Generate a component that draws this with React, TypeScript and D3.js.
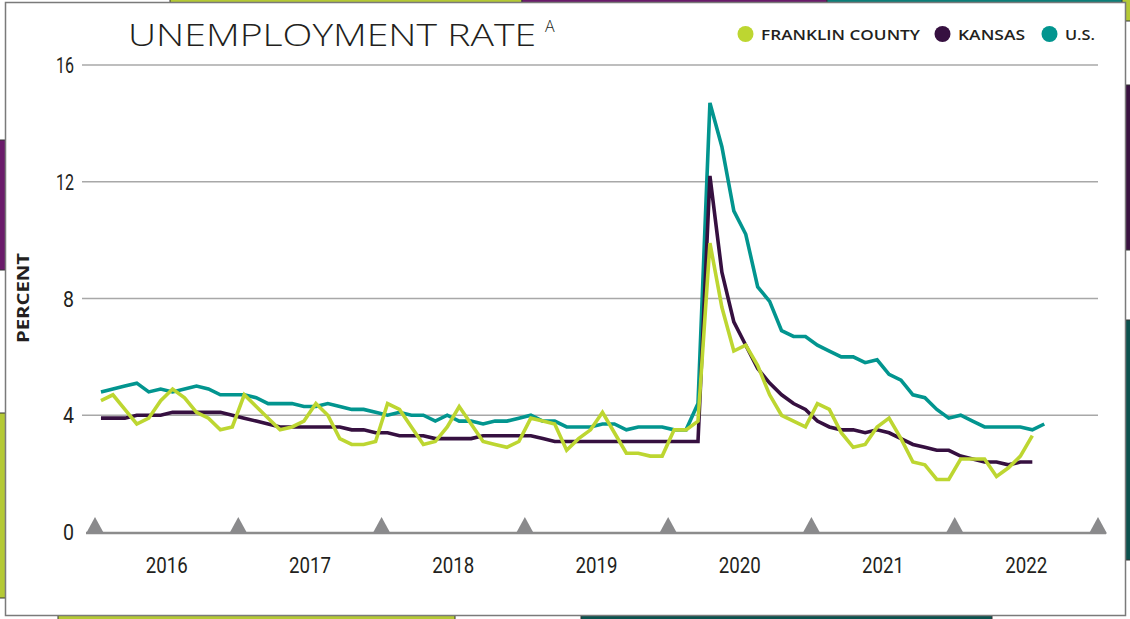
import React from 'react';
import * as d3 from 'd3';

// ---- data (monthly, Jan 2016 onward) ----
const years = ['2016', '2017', '2018', '2019', '2020', '2021', '2022'];
const yTicks = [0, 4, 8, 12, 16];

const franklin = [
  4.5, 4.7, 4.2, 3.7, 3.9, 4.5, 4.9, 4.6, 4.1, 3.9, 3.5, 3.6,
  4.7, 4.3, 3.9, 3.5, 3.6, 3.8, 4.4, 4.0, 3.2, 3.0, 3.0, 3.1,
  4.4, 4.2, 3.6, 3.0, 3.1, 3.6, 4.3, 3.7, 3.1, 3.0, 2.9, 3.1,
  3.9, 3.8, 3.7, 2.8, 3.2, 3.5, 4.1, 3.4, 2.7, 2.7, 2.6, 2.6,
  3.5, 3.5, 3.8, 9.9, 7.7, 6.2, 6.4, 5.7, 4.7, 4.0, 3.8, 3.6,
  4.4, 4.2, 3.4, 2.9, 3.0, 3.6, 3.9, 3.2, 2.4, 2.3, 1.8, 1.8,
  2.5, 2.5, 2.5, 1.9, 2.2, 2.6, 3.3,
];

const kansas = [
  3.9, 3.9, 3.9, 4.0, 4.0, 4.0, 4.1, 4.1, 4.1, 4.1, 4.1, 4.0,
  3.9, 3.8, 3.7, 3.6, 3.6, 3.6, 3.6, 3.6, 3.6, 3.5, 3.5, 3.4,
  3.4, 3.3, 3.3, 3.3, 3.2, 3.2, 3.2, 3.2, 3.3, 3.3, 3.3, 3.3,
  3.3, 3.2, 3.1, 3.1, 3.1, 3.1, 3.1, 3.1, 3.1, 3.1, 3.1, 3.1,
  3.1, 3.1, 3.1, 12.2, 8.9, 7.2, 6.4, 5.6, 5.1, 4.7, 4.4, 4.2,
  3.8, 3.6, 3.5, 3.5, 3.4, 3.5, 3.4, 3.2, 3.0, 2.9, 2.8, 2.8,
  2.6, 2.5, 2.4, 2.4, 2.3, 2.4, 2.4,
];

const us = [
  4.8, 4.9, 5.0, 5.1, 4.8, 4.9, 4.8, 4.9, 5.0, 4.9, 4.7, 4.7,
  4.7, 4.6, 4.4, 4.4, 4.4, 4.3, 4.3, 4.4, 4.3, 4.2, 4.2, 4.1,
  4.0, 4.1, 4.0, 4.0, 3.8, 4.0, 3.8, 3.8, 3.7, 3.8, 3.8, 3.9,
  4.0, 3.8, 3.8, 3.6, 3.6, 3.6, 3.7, 3.7, 3.5, 3.6, 3.6, 3.6,
  3.5, 3.5, 4.4, 14.7, 13.2, 11.0, 10.2, 8.4, 7.9, 6.9, 6.7, 6.7,
  6.4, 6.2, 6.0, 6.0, 5.8, 5.9, 5.4, 5.2, 4.7, 4.6, 4.2, 3.9,
  4.0, 3.8, 3.6, 3.6, 3.6, 3.6, 3.5, 3.7,
];

const seriesNames = ['FRANKLIN COUNTY', 'KANSAS', 'U.S.'];
const seriesColors = ['#bdd631', '#361040', '#02958f'];

export default function App() {
  const W = 1130;
  const H = 619;
  const x = d3.scaleLinear().domain([0, 84]).range([95, 1098]);
  const y = d3.scaleLinear().domain([0, 16]).range([532, 65]);
  const line = d3
    .line<number>()
    .x((_, i) => x(i + 0.5))
    .y((d) => y(d));

  const seriesData = [franklin, kansas, us];
  const drawOrder = [2, 1, 0];
  const yearBounds = d3.range(0, 85, 12);

  const legendX = [745.5, 942.5, 1049.5];
  const legendLen = [159, 67, 30];

  const numFont = "Roboto, 'DejaVu Sans Condensed', sans-serif";

  return (
    <svg
      width={W}
      height={H}
      viewBox={`0 0 ${W} ${H}`}
      style={{ position: 'absolute', left: 0, top: 0, background: '#fff' }}
    >
      {/* decorative background shapes peeking behind the panel */}
      <g stroke="#333" strokeWidth={1}>
        <rect x={170} y={-5} width={352} height={10} fill="#b4c935" />
        <rect x={522} y={-5} width={305} height={10} fill="#6a1b6a" />
        <rect x={827} y={-5} width={310} height={10} fill="#0b7e78" />
        <rect x={-5} y={140} width={12} height={130} fill="#6a1b6a" />
        <rect x={-5} y={413} width={12} height={185} fill="#b4c935" />
        <rect x={1122} y={-5} width={15} height={26} fill="#b4c935" />
        <rect x={1122} y={85} width={15} height={165} fill="#3a1240" />
        <rect x={1122} y={320} width={15} height={240} fill="#0c524e" />
        <rect x={58} y={612} width={397} height={15} fill="#b4c935" />
        <rect x={581} y={612} width={411} height={15} fill="#0c524e" />
      </g>

      {/* white panel */}
      <rect x={5.5} y={2.5} width={1120} height={613} fill="#fff" stroke="#7a7a7a" strokeWidth={1.5} />

      {/* title */}
      <text
        x={128}
        y={46}
        fontFamily="'Open Sans', Lato, sans-serif"
        fontWeight={300}
        fontSize={32}
        fill="#231f20"
        textLength={408}
        lengthAdjust="spacingAndGlyphs"
      >
        UNEMPLOYMENT RATE
      </text>
      <text x={545} y={32} fontFamily="'Open Sans', sans-serif" fontWeight={300} fontSize={16} fill="#231f20">
        A
      </text>

      {/* legend */}
      {seriesNames.map((name, i) => (
        <g key={name}>
          <circle cx={legendX[i]} cy={34} r={8} fill={seriesColors[i]} />
          <text
            x={legendX[i] + 15.5}
            y={39.5}
            fontFamily="'Open Sans', sans-serif"
            fontWeight={600}
            fontSize={15}
            fill="#231f20"
            textLength={legendLen[i]}
            lengthAdjust="spacingAndGlyphs"
          >
            {name}
          </text>
        </g>
      ))}

      {/* gridlines */}
      {yTicks
        .filter((t) => t > 0)
        .map((t) => (
          <line key={t} x1={82} x2={1098} y1={y(t)} y2={y(t)} stroke="#a8a8a8" strokeWidth={1.3} />
        ))}

      {/* y tick labels */}
      {yTicks.map((t) => (
        <text
          key={t}
          x={74}
          y={y(t) + 8}
          textAnchor="end"
          fontFamily={numFont}
          fontWeight={400}
          fontSize={22}
          fill="#231f20"
          textLength={String(t).length > 1 ? 18 : 11}
          lengthAdjust="spacingAndGlyphs"
        >
          {t}
        </text>
      ))}

      {/* y axis title */}
      <text
        transform={`translate(29,298) rotate(-90)`}
        textAnchor="middle"
        fontFamily="'Open Sans', sans-serif"
        fontWeight={700}
        fontSize={16}
        fill="#231f20"
        textLength={90}
        lengthAdjust="spacingAndGlyphs"
      >
        PERCENT
      </text>

      {/* baseline */}
      <line x1={86} x2={1106} y1={y(0) + 1} y2={y(0) + 1} stroke="#8c8c8c" strokeWidth={2.3} />

      {/* year boundary triangles */}
      {yearBounds.map((m) => (
        <path
          key={m}
          d={`M${x(m) - 9},${y(0) + 1.5} L${x(m)},${y(0) - 15} L${x(m) + 9},${y(0) + 1.5} Z`}
          fill="#8a8a8c"
        />
      ))}

      {/* year labels */}
      {years.map((yr, i) => (
        <text
          key={yr}
          x={(x(i * 12) + x(i * 12 + 12)) / 2}
          y={573}
          textAnchor="middle"
          fontFamily={numFont}
          fontWeight={400}
          fontSize={22}
          fill="#231f20"
          textLength={42}
          lengthAdjust="spacingAndGlyphs"
        >
          {yr}
        </text>
      ))}

      {/* series lines */}
      {drawOrder.map((si) => (
        <path
          key={seriesNames[si]}
          d={line(seriesData[si]) || ''}
          fill="none"
          stroke={seriesColors[si]}
          strokeWidth={3.6}
          strokeLinejoin="miter"
          strokeMiterlimit={3}
        />
      ))}
    </svg>
  );
}
